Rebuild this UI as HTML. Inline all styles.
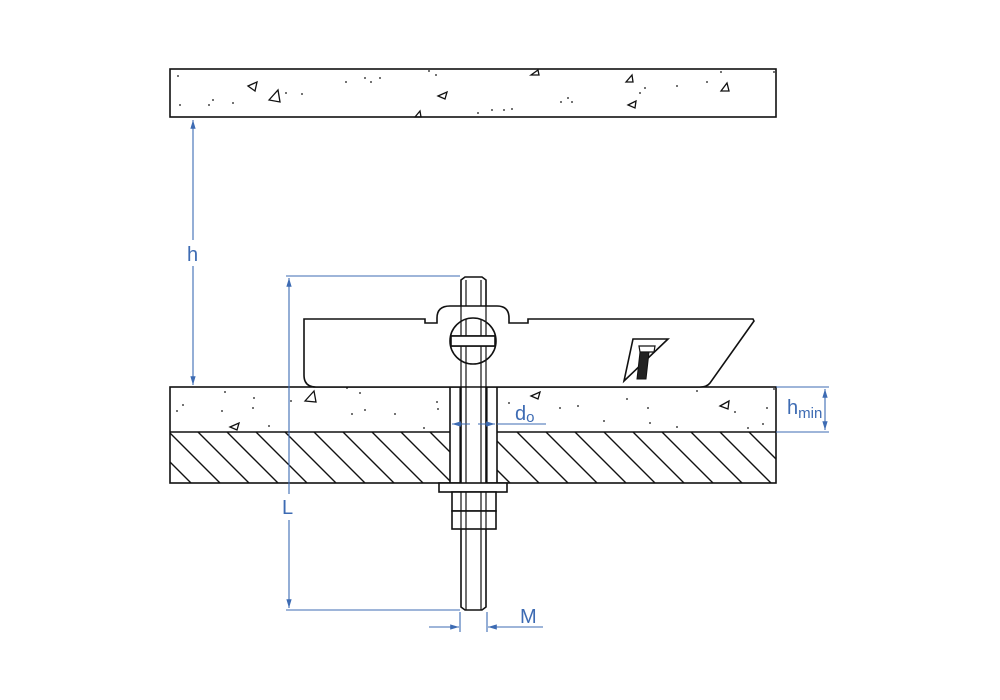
<!DOCTYPE html>
<html><head><style>body{margin:0;background:#fff}svg{display:block}</style></head><body>
<svg width="1000" height="700" viewBox="0 0 1000 700" xmlns="http://www.w3.org/2000/svg">
<defs>
<clipPath id="hc"><rect x="170" y="432" width="606" height="51"/></clipPath>
<marker id="a" viewBox="0 0 10 10" refX="10" refY="5" markerWidth="8" markerHeight="8" orient="auto-start-reverse"><path d="M0,2 L10,5 L0,8z" fill="#3d6bb3"/></marker>
</defs>
<g fill="none" stroke="#111" stroke-width="1.6">
<rect x="170" y="69" width="606" height="48"/>
<rect x="170" y="387" width="606" height="96"/>
<line x1="170" y1="432" x2="776" y2="432"/>
<g clip-path="url(#hc)" stroke-width="1.4">
<path d="M140,432l51,51M169,432l51,51M198,432l51,51M227,432l51,51M256,432l51,51M285,432l51,51M314,432l51,51M343,432l51,51M372,432l51,51M401,432l51,51M430,432l51,51M459,432l51,51M488,432l51,51M517,432l51,51M546,432l51,51M575,432l51,51M604,432l51,51M633,432l51,51M662,432l51,51M691,432l51,51M720,432l51,51M749,432l51,51"/>
</g>
<rect x="450" y="387" width="47" height="96" fill="#fff"/>
<path d="M460,387V483M466,387V483M481,387V483M487,387V483" stroke-width="1.2"/>
<!-- rod -->
<path d="M461,280V607l4,3h17l4,-3V280l-4,-3h-17z" fill="#fff"/>
<path d="M466,280V610M481,280V610" stroke-width="1.2"/>
<rect x="439" y="483" width="68" height="9" fill="#fff"/>
<rect x="452" y="492" width="44" height="19" fill="#fff"/>
<rect x="452" y="511" width="44" height="18" fill="#fff"/>
<path d="M461,492v37M486,492v37M466,492v37M481,492v37" stroke-width="1.2"/>
<!-- plate -->
<path d="M304,319H425V323H437V318Q437,306 450,306H497Q509,306 509,318V323H528V319H753L754,321L710,383Q707,387 700,387H316Q304,387 304,375Z" fill="#fff"/>
<path d="M466,319V387M481,319V387M461,306V387M486,306V387" stroke-width="1.2"/>
<circle cx="473" cy="341" r="23" fill="none"/>
<path d="M451,336H495M451,346H495" stroke-width="1.4"/>
<rect x="451" y="336" width="44" height="10" fill="#fff"/>
<path d="M633,339H668L624,381Z"/>
<path d="M639,346h16l-1,6h-14z" fill="#fff" stroke-width="1.2"/>
<path d="M640,352h9l-3,27h-9z" fill="#222" stroke-width="1"/>
</g>
<!-- concrete specks -->
<g fill="none" stroke="#111" stroke-width="1.3">
<path d="M248,86l9,-4l-2,9z"/><path d="M269,100l9,-10l2,12z"/><path d="M438,96l9,-4l-2,7z"/><path d="M531,75l7,-5l1,5z"/><path d="M626,82l6,-7l1,7z"/><path d="M721,91l6,-8l2,8z"/><path d="M628,105l8,-4l-1,7z"/><path d="M415,117l5,-6l1,6z"/>
<path d="M305,401l9,-10l2,11z"/><path d="M531,396l9,-4l-2,7z"/><path d="M720,406l9,-5l-1,8z"/><path d="M230,427l9,-4l-2,7z"/>
</g>
<g fill="#111">
<circle cx="178" cy="76" r=".9"/><circle cx="233" cy="103" r=".9"/><circle cx="213" cy="100" r=".9"/><circle cx="209" cy="105" r=".9"/><circle cx="286" cy="93" r=".9"/><circle cx="302" cy="94" r=".9"/><circle cx="346" cy="82" r=".9"/><circle cx="365" cy="78" r=".9"/><circle cx="371" cy="82" r=".9"/><circle cx="380" cy="78" r=".9"/><circle cx="429" cy="71" r=".9"/><circle cx="436" cy="75" r=".9"/><circle cx="478" cy="113" r=".9"/><circle cx="492" cy="110" r=".9"/><circle cx="504" cy="110" r=".9"/><circle cx="512" cy="109" r=".9"/><circle cx="561" cy="102" r=".9"/><circle cx="568" cy="98" r=".9"/><circle cx="572" cy="102" r=".9"/><circle cx="640" cy="93" r=".9"/><circle cx="645" cy="88" r=".9"/><circle cx="677" cy="86" r=".9"/><circle cx="707" cy="82" r=".9"/><circle cx="721" cy="72" r=".9"/><circle cx="774" cy="72" r=".9"/><circle cx="180" cy="105" r=".9"/>
<circle cx="183" cy="405" r=".9"/><circle cx="177" cy="411" r=".9"/><circle cx="225" cy="392" r=".9"/><circle cx="222" cy="411" r=".9"/><circle cx="254" cy="398" r=".9"/><circle cx="253" cy="408" r=".9"/><circle cx="269" cy="426" r=".9"/><circle cx="291" cy="401" r=".9"/><circle cx="347" cy="388" r=".9"/><circle cx="352" cy="414" r=".9"/><circle cx="360" cy="393" r=".9"/><circle cx="365" cy="410" r=".9"/><circle cx="395" cy="414" r=".9"/><circle cx="424" cy="428" r=".9"/><circle cx="437" cy="402" r=".9"/><circle cx="438" cy="409" r=".9"/><circle cx="509" cy="403" r=".9"/><circle cx="560" cy="408" r=".9"/><circle cx="578" cy="406" r=".9"/><circle cx="604" cy="421" r=".9"/><circle cx="627" cy="399" r=".9"/><circle cx="648" cy="408" r=".9"/><circle cx="650" cy="423" r=".9"/><circle cx="677" cy="427" r=".9"/><circle cx="697" cy="391" r=".9"/><circle cx="735" cy="412" r=".9"/><circle cx="748" cy="428" r=".9"/><circle cx="767" cy="408" r=".9"/><circle cx="763" cy="424" r=".9"/><circle cx="774" cy="389" r=".9"/>
</g>
<!-- dimensions -->
<g stroke="#3d6bb3" stroke-width="1.1" fill="none">
<line x1="193" y1="120" x2="193" y2="240" marker-start="url(#a)"/>
<line x1="193" y1="266" x2="193" y2="385" marker-end="url(#a)"/>
<line x1="286" y1="276" x2="460" y2="276"/>
<line x1="286" y1="610" x2="460" y2="610"/>
<line x1="289" y1="278" x2="289" y2="494" marker-start="url(#a)"/>
<line x1="289" y1="520" x2="289" y2="608" marker-end="url(#a)"/>
<line x1="776" y1="387" x2="829" y2="387"/>
<line x1="776" y1="432" x2="829" y2="432"/>
<line x1="825" y1="389" x2="825" y2="430" marker-start="url(#a)" marker-end="url(#a)"/>
<line x1="452" y1="424" x2="470" y2="424" marker-start="url(#a)"/>
<line x1="478" y1="424" x2="495" y2="424" marker-end="url(#a)"/>
<line x1="497" y1="424" x2="546" y2="424"/>
<line x1="460" y1="612" x2="460" y2="632"/>
<line x1="487" y1="612" x2="487" y2="632"/>
<line x1="429" y1="627" x2="459" y2="627" marker-end="url(#a)"/>
<line x1="543" y1="627" x2="488" y2="627" marker-end="url(#a)"/>
</g>
<g fill="#3d6bb3" font-family="Liberation Sans, sans-serif" font-size="20">
<text x="187" y="261">h</text>
<text x="282" y="514">L</text>
<text x="787" y="414">h<tspan font-size="15" dy="4">min</tspan></text>
<text x="515" y="420">d<tspan font-size="15" dy="2">o</tspan></text>
<text x="520" y="623">M</text>
</g>
</svg>
</body></html>
